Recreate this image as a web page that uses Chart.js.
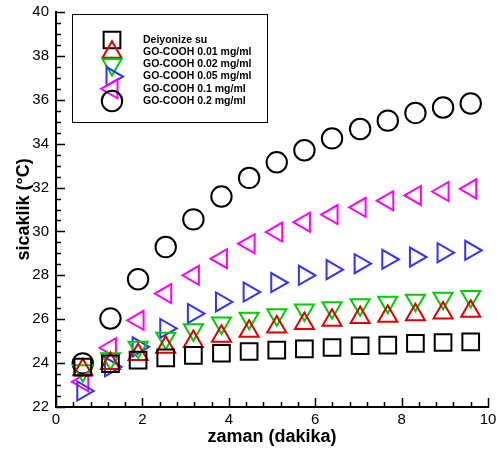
<!DOCTYPE html>
<html>
<head>
<meta charset="utf-8">
<script src="https://cdn.jsdelivr.net/npm/chart.js@4/dist/chart.umd.min.js"></script>
<style>
  html, body { margin: 0; padding: 0; background: #fff; }
  #wrap { width: 497px; height: 450px; }
</style>
</head>
<body>
<div id="wrap"><canvas id="chart" width="497" height="450"></canvas></div>
<script>
// ── Data ───────────────────────────────────────────
const times = [0.62, 1.26, 1.90, 2.54, 3.18, 3.83, 4.47, 5.11, 5.75, 6.39, 7.04, 7.68, 8.32, 8.96, 9.60];

const seriesNames = [
  'Deiyonize su',
  'GO-COOH 0.01 mg/ml',
  'GO-COOH 0.02 mg/ml',
  'GO-COOH 0.05 mg/ml',
  'GO-COOH 0.1 mg/ml',
  'GO-COOH 0.2 mg/ml'
];

const water  = [23.82, 23.97, 24.14, 24.24, 24.35, 24.45, 24.53, 24.59, 24.65, 24.71, 24.79, 24.82, 24.90, 24.94, 24.97];
const go001  = [23.70, 23.98, 24.39, 24.72, 24.99, 25.22, 25.45, 25.65, 25.80, 25.95, 26.08, 26.14, 26.20, 26.28, 26.36];
const go002  = [23.65, 24.20, 24.72, 25.13, 25.52, 25.83, 26.04, 26.20, 26.42, 26.52, 26.66, 26.77, 26.86, 26.96, 27.04];
const go005  = [22.73, 23.83, 24.74, 25.58, 26.26, 26.79, 27.24, 27.67, 28.00, 28.26, 28.53, 28.73, 28.83, 29.03, 29.14];
const go01   = [23.15, 24.70, 25.95, 27.17, 28.00, 28.76, 29.44, 29.97, 30.42, 30.77, 31.10, 31.40, 31.64, 31.82, 31.94];
const go02   = [23.99, 26.03, 27.82, 29.29, 30.55, 31.59, 32.44, 33.15, 33.70, 34.24, 34.67, 35.05, 35.40, 35.65, 35.83];

const xTicks = [0, 2, 4, 6, 8, 10];
const yTicks = [22, 24, 26, 28, 30, 32, 34, 36, 38, 40];

// ── Style ──────────────────────────────────────────
const FONT = '"Liberation Sans", Arial, Helvetica, sans-serif';
const markers = [
  { color: '#000000', style: 'rect',     rotation: 0,   radius: 11.8 },
  { color: '#dd0000', style: 'triangle', rotation: 0,   radius: 11 },
  { color: '#00cc00', style: 'triangle', rotation: 180, radius: 11 },
  { color: '#3333ff', style: 'triangle', rotation: 90,  radius: 11 },
  { color: '#ff00ff', style: 'triangle', rotation: 270, radius: 11 },
  { color: '#000000', style: 'circle',   rotation: 0,   radius: 10.2 }
];

const seriesValues = [water, go001, go002, go005, go01, go02];

const datasets = seriesValues.map((vals, i) => ({
  label: seriesNames[i],
  data: vals.map((v, k) => ({ x: times[k], y: v })),
  showLine: false,
  pointStyle: markers[i].style,
  pointRotation: markers[i].rotation,
  pointRadius: markers[i].radius,
  pointHoverRadius: markers[i].radius,
  pointBorderWidth: 2,
  pointBorderColor: markers[i].color,
  pointBackgroundColor: 'rgba(0,0,0,0)',
  clip: false,
  order: i
}));

// ── Inward ticks (major + minor) ───────────────────
const inwardTicks = {
  id: 'inwardTicks',
  afterDraw(chart) {
    const { ctx, scales: { x, y } } = chart;
    ctx.save();
    ctx.strokeStyle = '#000';
    ctx.lineWidth = 1.5;
    const base = y.bottom, left = x.left;
    ctx.beginPath();
    for (let k = 0; k <= 25; k++) {
      const px = Math.round(x.getPixelForValue(k * 0.4)) + 0.5;
      const len = (k % 5 === 0) ? 9 : 5;
      ctx.moveTo(px, base);
      ctx.lineTo(px, base - len);
    }
    for (let k = 0; k <= 36; k++) {
      const py = Math.round(y.getPixelForValue(22 + k * 0.5)) + 0.5;
      const len = (k % 4 === 0) ? 9 : 5;
      ctx.moveTo(left, py);
      ctx.lineTo(left + len, py);
    }
    ctx.stroke();
    ctx.restore();
  }
};

// ── Legend box ─────────────────────────────────────
const legendBox = {
  id: 'legendBox',
  afterDraw(chart) {
    const ctx = chart.ctx;
    ctx.save();
    ctx.fillStyle = '#fff';
    ctx.fillRect(72, 14, 195, 108);
    ctx.strokeStyle = '#000';
    ctx.lineWidth = 1;
    ctx.strokeRect(72.5, 14.5, 195, 108);

    const rows = [40, 52.2, 64.4, 76.6, 88.8, 101];
    // drawPoint strokes with the current ctx style, so set it per marker
    chart.data.datasets.forEach((ds, i) => {
      ctx.strokeStyle = ds.pointBorderColor;
      ctx.fillStyle = 'rgba(0,0,0,0)';
      ctx.lineWidth = 2;
      Chart.helpers.drawPoint(ctx, {
        pointStyle: ds.pointStyle,
        rotation: ds.pointRotation,
        radius: ds.pointRadius,
        borderWidth: 2
      }, 112, rows[i]);
    });

    ctx.fillStyle = '#000';
    ctx.font = 'bold 10.5px ' + FONT;
    ctx.textBaseline = 'middle';
    ctx.textAlign = 'left';
    seriesNames.forEach((name, i) => ctx.fillText(name, 143, rows[i]));
    ctx.restore();
  }
};

// ── Chart ──────────────────────────────────────────
new Chart(document.getElementById('chart'), {
  type: 'scatter',
  data: { datasets },
  options: {
    responsive: false,
    animation: false,
    events: [],
    layout: { autoPadding: false, padding: { top: 12, right: 9, left: 0, bottom: 0 } },
    plugins: {
      legend: { display: false },
      tooltip: { enabled: false }
    },
    scales: {
      x: {
        type: 'linear',
        min: 0,
        max: 10,
        afterFit: (s) => { s.height = 43; s.paddingLeft = 0; s.paddingRight = 0; },
        afterBuildTicks: (s) => { s.ticks = xTicks.map(v => ({ value: v })); },
        grid: { display: false, drawTicks: false },
        border: { display: true, color: '#000', width: 2 },
        ticks: { color: '#000', padding: 4, font: { family: FONT, size: 15 } },
        title: {
          display: true,
          text: 'zaman (dakika)',
          color: '#000',
          padding: { top: 0, bottom: 2 },
          font: { family: FONT, size: 18, weight: 'bold' }
        }
      },
      y: {
        type: 'linear',
        min: 22,
        max: 40,
        afterFit: (s) => { s.width = 56; s.paddingTop = 0; s.paddingBottom = 0; },
        afterBuildTicks: (s) => { s.ticks = yTicks.map(v => ({ value: v })); },
        grid: { display: false, drawTicks: false },
        border: { display: true, color: '#000', width: 2 },
        ticks: { color: '#000', padding: 7, font: { family: FONT, size: 15 } },
        title: {
          display: true,
          text: 'sicaklik (°C)',
          color: '#000',
          padding: { top: 13, bottom: 0 },
          font: { family: FONT, size: 18, weight: 'bold' }
        }
      }
    }
  },
  plugins: [inwardTicks, legendBox]
});
</script>
</body>
</html>
